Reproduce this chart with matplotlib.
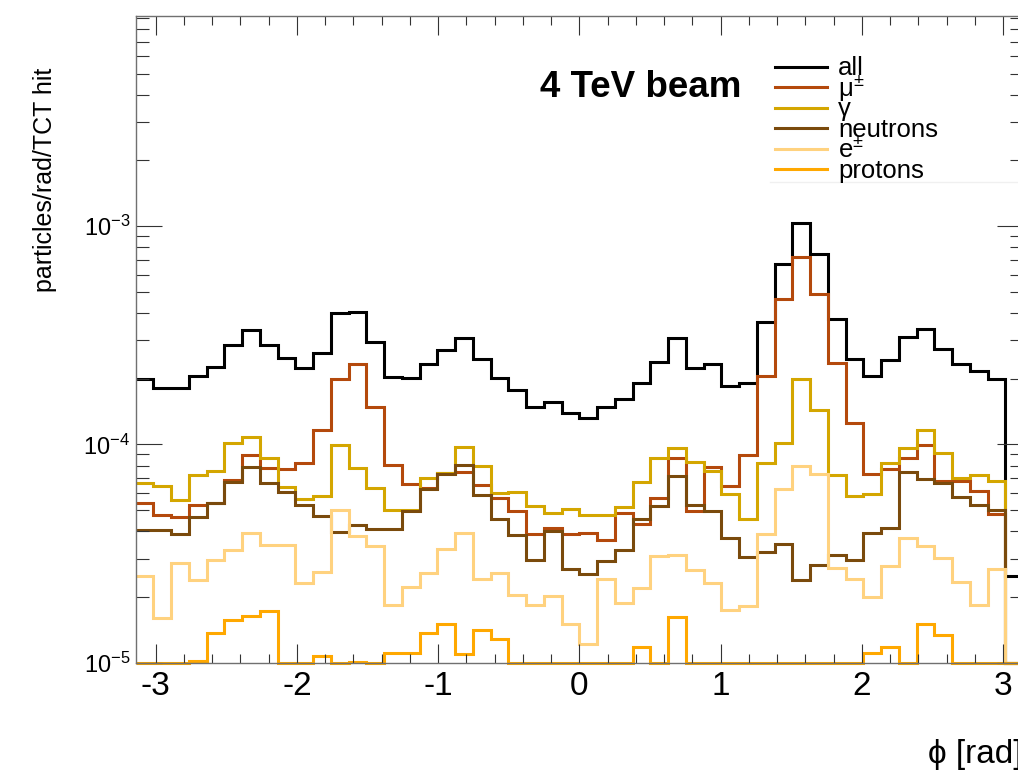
import numpy as np
import matplotlib
matplotlib.use("Agg")
import matplotlib.pyplot as plt
from matplotlib.lines import Line2D
from matplotlib.ticker import LogLocator, FixedLocator, MultipleLocator, NullFormatter, FixedFormatter

plt.rcParams['font.family'] = ['Liberation Sans', 'DejaVu Sans']
plt.rcParams['mathtext.fontset'] = 'custom'
plt.rcParams['mathtext.rm'] = 'Liberation Sans'
plt.rcParams['mathtext.it'] = 'Liberation Sans:italic'
plt.rcParams['mathtext.bf'] = 'Liberation Sans:bold'
plt.rcParams['axes.unicode_minus'] = False

# phi binning: 50 bins over [-pi, pi]
n_bins = 50
phi_edges = np.linspace(-np.pi, np.pi, n_bins + 1)

# particles / rad / TCT hit per phi bin
all_particles = [1.99e-4, 1.81e-4, 1.81e-4, 2.06e-4, 2.27e-4, 2.86e-4, 3.34e-4, 2.86e-4, 2.48e-4, 2.25e-4,
                 2.61e-4, 4.00e-4, 4.06e-4, 2.95e-4, 2.03e-4, 2.02e-4, 2.34e-4, 2.71e-4, 3.06e-4, 2.46e-4,
                 2.02e-4, 1.78e-4, 1.48e-4, 1.56e-4, 1.39e-4, 1.32e-4, 1.48e-4, 1.62e-4, 1.92e-4, 2.39e-4,
                 3.06e-4, 2.25e-4, 2.34e-4, 1.85e-4, 1.92e-4, 3.65e-4, 6.69e-4, 1.036e-3, 7.48e-4, 3.75e-4,
                 2.46e-4, 2.06e-4, 2.44e-4, 3.09e-4, 3.38e-4, 2.75e-4, 2.34e-4, 2.16e-4, 1.99e-4, 2.50e-5]
muons = [5.41e-5, 4.77e-5, 4.65e-5, 5.26e-5, 5.41e-5, 6.84e-5, 8.90e-5, 7.78e-5, 7.74e-5, 8.24e-5,
         1.17e-4, 1.99e-4, 2.34e-4, 1.49e-4, 8.09e-5, 6.61e-5, 6.29e-5, 7.36e-5, 7.46e-5, 6.49e-5,
         5.68e-5, 4.94e-5, 3.90e-5, 4.14e-5, 3.90e-5, 3.94e-5, 3.64e-5, 4.85e-5, 4.34e-5, 5.68e-5,
         8.68e-5, 4.94e-5, 7.87e-5, 6.42e-5, 8.99e-5, 2.06e-4, 4.63e-4, 7.22e-4, 4.91e-4, 2.36e-4,
         1.26e-4, 7.34e-5, 7.74e-5, 8.68e-5, 9.89e-5, 6.77e-5, 6.77e-5, 6.11e-5, 4.82e-5, 0]
photons = [6.67e-5, 6.42e-5, 5.54e-5, 7.26e-5, 7.52e-5, 1.02e-4, 1.08e-4, 8.68e-5, 6.37e-5, 5.64e-5,
           5.80e-5, 9.96e-5, 7.78e-5, 6.31e-5, 4.99e-5, 5.00e-5, 7.01e-5, 7.42e-5, 9.68e-5, 7.95e-5,
           6.01e-5, 6.05e-5, 5.20e-5, 4.87e-5, 5.08e-5, 4.77e-5, 4.73e-5, 5.16e-5, 6.72e-5, 8.68e-5,
           9.61e-5, 8.29e-5, 7.54e-5, 5.90e-5, 4.57e-5, 8.21e-5, 1.02e-4, 1.99e-4, 1.44e-4, 7.21e-5,
           5.78e-5, 5.90e-5, 8.21e-5, 9.65e-5, 1.16e-4, 9.15e-5, 7.04e-5, 7.21e-5, 6.77e-5, 0]
neutrons = [4.04e-5, 4.04e-5, 3.90e-5, 4.65e-5, 5.41e-5, 6.72e-5, 7.87e-5, 6.67e-5, 6.05e-5, 5.26e-5,
            4.70e-5, 3.97e-5, 4.29e-5, 4.08e-5, 4.08e-5, 4.94e-5, 6.27e-5, 7.34e-5, 8.01e-5, 5.84e-5,
            4.57e-5, 3.83e-5, 2.95e-5, 4.00e-5, 2.68e-5, 2.54e-5, 2.92e-5, 3.30e-5, 4.57e-5, 5.22e-5,
            7.15e-5, 5.30e-5, 4.95e-5, 3.74e-5, 3.05e-5, 3.22e-5, 3.51e-5, 2.39e-5, 2.80e-5, 3.11e-5,
            2.95e-5, 3.93e-5, 4.12e-5, 7.46e-5, 6.96e-5, 6.65e-5, 5.74e-5, 5.26e-5, 5.02e-5, 0]
electrons = [2.49e-5, 1.61e-5, 2.86e-5, 2.39e-5, 2.95e-5, 3.30e-5, 3.93e-5, 3.45e-5, 3.45e-5, 2.31e-5,
             2.61e-5, 5.02e-5, 3.79e-5, 3.42e-5, 1.84e-5, 2.23e-5, 2.58e-5, 3.33e-5, 3.93e-5, 2.43e-5,
             2.58e-5, 2.04e-5, 1.84e-5, 2.02e-5, 1.50e-5, 1.22e-5, 2.43e-5, 1.88e-5, 2.21e-5, 3.07e-5,
             3.11e-5, 2.65e-5, 2.31e-5, 1.74e-5, 1.82e-5, 3.90e-5, 6.27e-5, 7.99e-5, 7.31e-5, 2.72e-5,
             2.42e-5, 1.99e-5, 2.76e-5, 3.72e-5, 3.42e-5, 3.02e-5, 2.34e-5, 1.84e-5, 2.70e-5, 0]
protons = [0, 0, 0, 1.02e-5, 1.37e-5, 1.57e-5, 1.64e-5, 1.72e-5, 0, 0,
           1.07e-5, 0, 1.01e-5, 0, 1.11e-5, 1.11e-5, 1.37e-5, 1.51e-5, 1.10e-5, 1.41e-5,
           1.28e-5, 0, 0, 0, 0, 0, 0, 0, 1.18e-5, 0,
           1.62e-5, 0, 0, 0, 0, 0, 0, 0, 0, 0,
           0, 1.11e-5, 1.18e-5, 0, 1.51e-5, 1.34e-5, 0, 0, 0, 0]

labels = ['all', 'μ$\\mathregular{^{\\pm}}$', 'γ', 'neutrons', 'e$\\mathregular{^{\\pm}}$', 'protons']
series = [all_particles, muons, photons, neutrons, electrons, protons]
colors = ['#000000', '#b4490c', '#d4a600', '#7a4a0c', '#ffd27f', '#ffa800']

y_min, y_max = 1e-5, 9.2e-3
line_w = 2.2

fig = plt.figure(figsize=(10.18, 7.71), dpi=100)
ax = fig.add_axes([0.1333, 0.1405, 0.8717, 0.839])

for vals, col in zip(series, colors):
    # empty / underflow bins sit on the bottom of the frame
    v = np.maximum(np.asarray(vals, dtype=float), y_min)
    ax.stairs(v, phi_edges, baseline=None, color=col, lw=line_w, clip_on=False)

ax.set_yscale('log')
ax.set_xlim(-np.pi, np.pi)
ax.set_ylim(y_min, y_max)

ax.xaxis.set_major_locator(MultipleLocator(1))
ax.xaxis.set_minor_locator(MultipleLocator(0.2))
ax.yaxis.set_major_locator(FixedLocator([1e-5, 1e-4, 1e-3]))
ax.yaxis.set_major_formatter(FixedFormatter(['$\\mathregular{10^{-5}}$', '$\\mathregular{10^{-4}}$',
                                             '$\\mathregular{10^{-3}}$']))
ax.yaxis.set_minor_locator(LogLocator(base=10, subs=np.arange(2, 10)))
ax.yaxis.set_minor_formatter(NullFormatter())

ax.tick_params(axis='both', which='both', direction='in', top=True, right=True,
               width=0.8, color='#333333')
ax.tick_params(axis='x', which='major', length=13.7, labelsize=24, pad=6)
ax.tick_params(axis='x', which='minor', length=6.5)
ax.tick_params(axis='y', which='major', length=18.7, labelsize=17, pad=4)
ax.tick_params(axis='y', which='minor', length=9.4)
for sp in ax.spines.values():
    sp.set_color('#707070')
    sp.set_linewidth(1.0)

# axis titles, aligned to the axis ends
fig.text(45 / 1018, 1 - 68 / 771, 'particles/rad/TCT hit', rotation=90,
         ha='center', va='top', fontsize=18)
fig.text(1023 / 1018, 1 - 755 / 771, 'ϕ [rad]', ha='right', va='center', fontsize=24)

fig.text(540 / 1018, 1 - 96.7 / 771, '4 TeV beam', ha='left', va='baseline',
         fontsize=26.5, fontweight='bold')

# legend block
row_y0, row_dy = 66.7, 20.5
for i, (lab, col) in enumerate(zip(labels, colors)):
    yl = row_y0 + i * row_dy
    fig.add_artist(Line2D([775 / 1018, 827 / 1018], [1 - yl / 771, 1 - yl / 771],
                          color=col, lw=line_w, transform=fig.transFigure))
    fig.text(838 / 1018, 1 - (yl + 8.7) / 771, lab, ha='left', va='baseline', fontsize=18.5)
fig.add_artist(Line2D([770 / 1018, 1.0], [1 - 182 / 771, 1 - 182 / 771],
                      color='#f0f0f0', lw=1.0, transform=fig.transFigure))

fig.savefig('out.png', dpi=100)
